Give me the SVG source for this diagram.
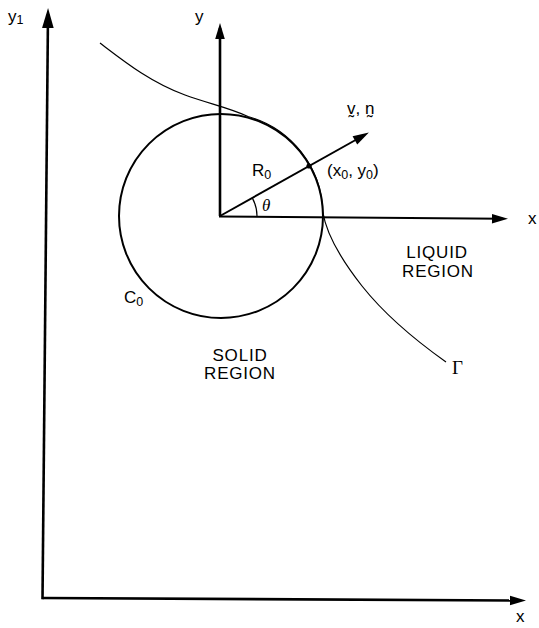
<svg xmlns="http://www.w3.org/2000/svg" width="539" height="628" viewBox="0 0 539 628">
<style>
  .ax { fill: none; stroke: #000; stroke-width: 2.6; stroke-linecap: butt; }
  .ln { fill: none; stroke: #000; stroke-width: 2; }
  .thin { fill: none; stroke: #000; stroke-width: 1.2; }
  .t { font-family: "Liberation Sans", Arial, sans-serif; font-size: 17px; fill: #000; }
  .reg { font-family: "Liberation Sans", Arial, sans-serif; font-size: 17px; fill: #000; letter-spacing: 0.8px; text-anchor: middle; }
  .sub { font-size: 12.5px; }
</style>
<defs>
  <marker id="arr" markerUnits="userSpaceOnUse" markerWidth="20" markerHeight="12" viewBox="0 -6 16 12" refX="11" refY="0" orient="auto">
    <path d="M0,-4.8 L16,0 L0,4.8 Z" fill="#000"/>
  </marker>
  <marker id="arrBig" markerUnits="userSpaceOnUse" markerWidth="22" markerHeight="14" viewBox="0 -7 20 14" refX="14" refY="0" orient="auto">
    <path d="M0,-5.8 L20,0 L0,5.8 Z" fill="#000"/>
  </marker>
</defs>
<rect width="539" height="628" fill="#fff"/>

<g id="frame-axes">
  <path class="ax" d="M42.5,598 L521,600.5" marker-end="url(#arr)"/>
  <path class="ax" d="M42.5,599.3 L48,14" marker-end="url(#arrBig)"/>
  <text class="t" x="8" y="22">y<tspan class="sub" dy="2">1</tspan></text>
  <text class="t" x="516" y="622">x</text>
</g>

<g id="connectors">
  <line class="ax" x1="220" y1="216" x2="220" y2="28" marker-end="url(#arr)"/>
  <line class="ln" x1="219" y1="216.5" x2="503" y2="218.8" marker-end="url(#arr)"/>
  <line class="ln" x1="220" y1="216" x2="364.5" y2="135" marker-end="url(#arr)"/>
</g>

<g id="circle-C0">
  <circle class="ln" cx="221" cy="216" r="102"/>
  <text class="t" x="124" y="303">C<tspan class="sub" dy="3">0</tspan></text>
</g>

<g id="interface-Gamma">
  <path class="thin" d="M100,43 C125,62 150,82 185,95 C210,104 230,108 248,116.5 A102,102 0 0 1 322.8,212 C326,232 340,258 362,286 C385,315 415,340 446,362"/>
  <text x="452" y="374" font-family="Liberation Serif, 'Times New Roman', serif" font-size="19" fill="#000">Γ</text>
</g>

<g id="point-x0y0">
  <circle cx="309" cy="166" r="2.6" fill="#000"/>
  <text class="t" x="327" y="176">(x<tspan class="sub" dy="3">0</tspan><tspan dy="-3">, y</tspan><tspan class="sub" dy="3">0</tspan><tspan dy="-3">)</tspan></text>
</g>

<g id="radius-R0">
  <text class="t" x="252" y="176">R<tspan class="sub" dy="3">0</tspan></text>
  <path class="thin" d="M257,216 A37,37 0 0 0 252.4,198.1"/>
  <text x="262" y="211" font-family="Liberation Serif, 'Times New Roman', serif" font-style="italic" font-size="17" fill="#000">θ</text>
</g>

<g id="normal-label">
  <text class="t" x="347" y="114" font-size="16">v̰, n̰</text>
</g>

<g id="axis-labels">
  <text class="t" x="195" y="22">y</text>
  <text class="t" x="528" y="224">x</text>
</g>

<g id="liquid-region">
  <text class="reg" x="437" y="258">LIQUID</text>
  <text class="reg" x="438" y="277">REGION</text>
</g>

<g id="solid-region">
  <text class="reg" x="240" y="361">SOLID</text>
  <text class="reg" x="240" y="379">REGION</text>
</g>
</svg>
